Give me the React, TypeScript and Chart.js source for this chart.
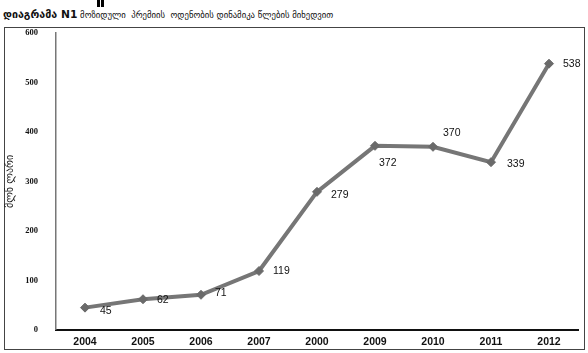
import React, { useEffect, useRef } from "react";
import { Chart, registerables } from "chart.js";

Chart.register(...registerables);

const categories = ["2004", "2005", "2006", "2007", "2000", "2009", "2010", "2011", "2012"];
const premiumValues = [45, 62, 71, 119, 279, 372, 370, 339, 538];
const yTicks = [0, 100, 200, 300, 400, 500, 600];
const titleBold = "დიაგრამა N1";
const titleRest = "მოზიდული  პრემიის  ოდენობის დინამიკა წლების მიხედვით";
const yAxisTitle = "მლნ ლარი";

// label offsets relative to point (dx, dy)
const labelOffsets: [number, number][] = [
  [15, 3], [14, 1], [14, -2], [14, 0], [14, 3], [4, 17], [10, -14], [16, 2], [14, 0],
];

const labelPlugin = {
  id: "pointLabels",
  afterDatasetsDraw(chart: any) {
    const ctx = chart.ctx;
    const meta = chart.getDatasetMeta(0);
    ctx.save();
    ctx.font = "10.5px 'Liberation Sans', Arial, sans-serif";
    ctx.fillStyle = "#111";
    ctx.textAlign = "left";
    ctx.textBaseline = "middle";
    meta.data.forEach((pt: any, i: number) => {
      const v = chart.data.datasets[0].data[i];
      const [dx, dy] = labelOffsets[i] || [10, 0];
      ctx.fillText(String(v), pt.x + dx, pt.y + dy);
    });
    ctx.restore();
  },
};

export default function App() {
  const ref = useRef<HTMLCanvasElement>(null);
  useEffect(() => {
    if (!ref.current) return;
    const chart = new Chart(ref.current, {
      type: "line",
      data: {
        labels: categories,
        datasets: [
          {
            data: premiumValues,
            borderColor: "#767676",
            backgroundColor: "#767676",
            borderWidth: 4,
            pointStyle: "rectRot",
            pointRadius: 4.5,
            pointBorderWidth: 1,
            pointBackgroundColor: "#6a6a6a",
            pointBorderColor: "#6a6a6a",
            tension: 0,
          },
        ],
      },
      options: {
        animation: false,
        responsive: false,
        maintainAspectRatio: false,
        layout: { padding: { left: 0, top: 33, right: 10, bottom: 0 } },
        plugins: { legend: { display: false }, tooltip: { enabled: false } },
        scales: {
          x: {
            type: "category",
            offset: true,
            grid: { display: false, drawTicks: false },
            border: { display: true, color: "#111", width: 2 },
            ticks: {
              padding: 6,
              color: "#111",
              font: { family: "'Liberation Sans', Arial, sans-serif", size: 10.5, weight: "bold" },
              maxRotation: 0,
            },
            afterFit: (s: any) => { s.height = 23; },
          },
          y: {
            min: 0,
            max: 600,
            afterBuildTicks: (s: any) => { s.ticks = yTicks.map((v) => ({ value: v })); },
            grid: { display: false, drawTicks: false },
            border: { display: true, color: "#777", width: 1.5 },
            ticks: {
              padding: 18,
              color: "#111",
              font: { family: "'Liberation Serif', 'Times New Roman', serif", size: 8.5, weight: "bold" },
            },
            title: {
              display: true,
              text: yAxisTitle,
              color: "#222",
              font: { family: "'DejaVu Sans', sans-serif", size: 10 },
              padding: { top: 4, bottom: 0 },
            },
            afterFit: (s: any) => { s.width = 56; },
          },
        },
      },
      plugins: [labelPlugin],
    });
    return () => chart.destroy();
  }, []);

  return (
    <div style={{ position: "fixed", left: 0, top: 0, width: 588, height: 353, background: "#fff", overflow: "hidden" }}>
      <div style={{ position: "absolute", left: 97, top: 0, width: 3, height: 7, background: "#000" }} />
      <div style={{ position: "absolute", left: 101, top: 0, width: 3, height: 7, background: "#000" }} />
      <div
        style={{
          position: "absolute",
          left: 3,
          top: 9,
          whiteSpace: "pre",
          fontFamily: "'DejaVu Sans', sans-serif",
          fontSize: 8.7,
          lineHeight: "12px",
          color: "#111",
        }}
      >
        <span style={{ fontWeight: "bold", fontSize: 10.7 }}>{titleBold}</span>
        <span>{" " + titleRest}</span>
      </div>
      <div
        style={{
          position: "absolute",
          left: 4,
          top: 27,
          width: 579,
          height: 321,
          border: "1px solid #444",
        }}
      />
      <canvas ref={ref} width={588} height={353} style={{ position: "absolute", left: 0, top: 0 }} />
    </div>
  );
}
